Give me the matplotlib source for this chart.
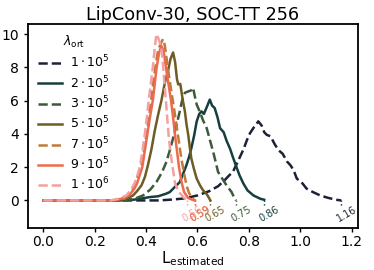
import matplotlib
matplotlib.use("Agg")
import matplotlib.pyplot as plt

# estimated-Lipschitz distributions, one per lambda_ort
labels = [r'$1\cdot10^5$', r'$2\cdot10^5$', r'$3\cdot10^5$', r'$5\cdot10^5$',
          r'$7\cdot10^5$', r'$9\cdot10^5$', r'$1\cdot10^6$']
colors = ['#1c2235', '#163f3f', '#3e5a3a', '#6e5c25', '#c07a3a', '#ec6b4f', '#f4a0a0']
styles = ['--', '-', '--', '-', '--', '-', '--']

x1 = [0.0, 0.45, 0.5, 0.55, 0.6, 0.645, 0.68, 0.705, 0.72, 0.738, 0.753, 0.766, 0.78,
      0.793, 0.805, 0.82, 0.837, 0.85, 0.86, 0.87, 0.885, 0.9, 0.915, 0.932, 0.948,
      0.962, 0.975, 0.987, 1.005, 1.025, 1.05, 1.078, 1.11, 1.14, 1.16]
y1 = [0, 0, 0.05, 0.12, 0.3, 0.55, 0.85, 1.2, 1.45, 1.72, 2.2, 2.63, 3.1, 3.64, 4.05,
      4.4, 4.75, 4.5, 4.1, 3.94, 3.85, 3.4, 3.03, 2.8, 2.35, 2.12, 1.8, 1.31, 1.1, 0.71,
      0.5, 0.3, 0.15, 0.04, 0.0]

x2 = [0.0, 0.3, 0.355, 0.414, 0.447, 0.477, 0.492, 0.508, 0.531, 0.544, 0.557, 0.567,
      0.576, 0.587, 0.597, 0.607, 0.616, 0.625, 0.636, 0.648, 0.657, 0.667, 0.678,
      0.688, 0.702, 0.713, 0.727, 0.738, 0.752, 0.764, 0.779, 0.795, 0.818, 0.845, 0.86]
y2 = [0, 0, 0.05, 0.2, 0.25, 0.4, 0.5, 0.75, 1.1, 1.6, 2.12, 2.6, 3.13, 3.9, 4.75, 5.2,
      5.35, 5.2, 5.6, 6.06, 5.7, 5.55, 5.0, 4.34, 4.1, 3.6, 3.1, 2.6, 2.0, 1.5, 1.01,
      0.6, 0.3, 0.1, 0.04]

x3 = [0.0, 0.3, 0.355, 0.388, 0.416, 0.44, 0.462, 0.479, 0.492, 0.505, 0.518, 0.531,
      0.54, 0.551, 0.564, 0.574, 0.583, 0.589, 0.597, 0.61, 0.622, 0.636, 0.649, 0.661,
      0.671, 0.68, 0.697, 0.713, 0.733, 0.745, 0.75]
y3 = [0, 0, 0.1, 0.3, 0.65, 1.1, 1.7, 2.32, 3.0, 3.74, 4.5, 5.35, 6.0, 6.47, 6.55, 6.6,
      6.77, 6.3, 5.76, 5.3, 4.8, 4.34, 3.6, 2.93, 2.3, 1.72, 1.3, 0.91, 0.5, 0.1, 0.0]

x4 = [0.0, 0.28, 0.323, 0.349, 0.364, 0.382, 0.395, 0.407, 0.421, 0.433, 0.446, 0.459,
      0.472, 0.485, 0.495, 0.505, 0.513, 0.52, 0.525, 0.533, 0.543, 0.551, 0.557, 0.564,
      0.57, 0.576, 0.586, 0.597, 0.61, 0.622, 0.635, 0.645, 0.65]
y4 = [0, 0, 0.1, 0.3, 0.55, 0.91, 1.4, 2.12, 3.1, 4.14, 5.1, 5.96, 7.0, 7.78, 8.5, 8.89,
      8.3, 7.3, 6.97, 7.0, 6.0, 5.35, 4.6, 3.94, 3.2, 2.53, 1.9, 1.31, 0.9, 0.6, 0.4,
      0.15, 0.0]

x5 = [0.0, 0.28, 0.313, 0.334, 0.349, 0.364, 0.382, 0.395, 0.407, 0.418, 0.427, 0.436,
      0.446, 0.456, 0.466, 0.473, 0.479, 0.488, 0.498, 0.508, 0.518, 0.528, 0.537,
      0.547, 0.557, 0.567, 0.578, 0.585, 0.59]
y5 = [0, 0, 0.1, 0.35, 0.7, 1.3, 2.12, 3.3, 4.55, 5.8, 6.97, 8.0, 8.99, 9.4, 9.7, 9.3,
      8.59, 7.6, 6.56, 5.6, 4.55, 3.5, 2.53, 1.7, 0.91, 0.45, 0.15, 0.05, 0.0]

x6 = [0.0, 0.27, 0.303, 0.334, 0.354, 0.364, 0.385, 0.395, 0.405, 0.415, 0.426, 0.441,
      0.451, 0.459, 0.468, 0.477, 0.487, 0.497, 0.505, 0.512, 0.52, 0.528, 0.538, 0.548,
      0.563, 0.578, 0.59]
y6 = [0, 0, 0.1, 0.3, 0.7, 1.0, 2.0, 3.0, 4.0, 5.0, 6.0, 8.0, 8.9, 9.29, 9.0, 8.0, 7.0,
      6.0, 5.0, 4.0, 3.0, 2.0, 1.1, 0.5, 0.15, 0.05, 0.0]

x7 = [0.0, 0.26, 0.293, 0.323, 0.339, 0.354, 0.364, 0.375, 0.385, 0.395, 0.403, 0.41,
      0.418, 0.426, 0.434, 0.44, 0.446, 0.453, 0.459, 0.464, 0.469, 0.477, 0.482, 0.487,
      0.494, 0.503, 0.513, 0.528, 0.548, 0.56]
y7 = [0, 0, 0.1, 0.3, 0.6, 1.0, 1.4, 2.0, 2.9, 4.0, 5.0, 6.0, 7.0, 8.0, 9.2, 10.0, 9.8,
      9.5, 9.19, 8.5, 7.5, 6.0, 5.0, 4.0, 3.0, 2.0, 1.0, 0.5, 0.15, 0.0]

xs = [x1, x2, x3, x4, x5, x6, x7]
ys = [y1, y2, y3, y4, y5, y6, y7]

fig = plt.figure(figsize=(3.74, 2.7), dpi=100)
ax = fig.add_axes([0.075, 0.156, 0.882, 0.755])

for x, y, c, ls, lab in zip(xs, ys, colors, styles, labels):
    ax.plot(x, y, ls, color=c, lw=1.8, label=lab)
    # mark where each distribution ends
    ax.plot([x[-1], x[-1]], [0, -0.35], ':', color=c, lw=1.0)
    ax.text(x[-1] + 0.02, -0.8, f'{x[-1]:.2f}', color=c, fontsize=7,
            rotation=30, ha='center', va='center')

ax.set_xlim(-0.06, 1.225)
ax.set_ylim(-1.65, 10.6)
ax.set_xticks([0.0, 0.2, 0.4, 0.6, 0.8, 1.0, 1.2])
ax.set_yticks([0, 2, 4, 6, 8, 10])
ax.tick_params(labelsize=10, length=3, width=1)
ax.tick_params(axis='x', pad=2)
for s in ax.spines.values():
    s.set_linewidth(1.3)

ax.set_title('LipConv-30, SOC-TT 256', fontsize=12.7, pad=3)
ax.set_xlabel(r'L$_{\mathrm{estimated}}$', fontsize=11, labelpad=0)

leg = ax.legend(title=r'$\lambda_{\mathrm{ort}}$', loc='upper left', frameon=False,
                fontsize=9, title_fontsize=9, handlelength=1.9, handletextpad=0.65,
                labelspacing=0.3, borderaxespad=0.4)

fig.savefig('out.png', dpi=100)
